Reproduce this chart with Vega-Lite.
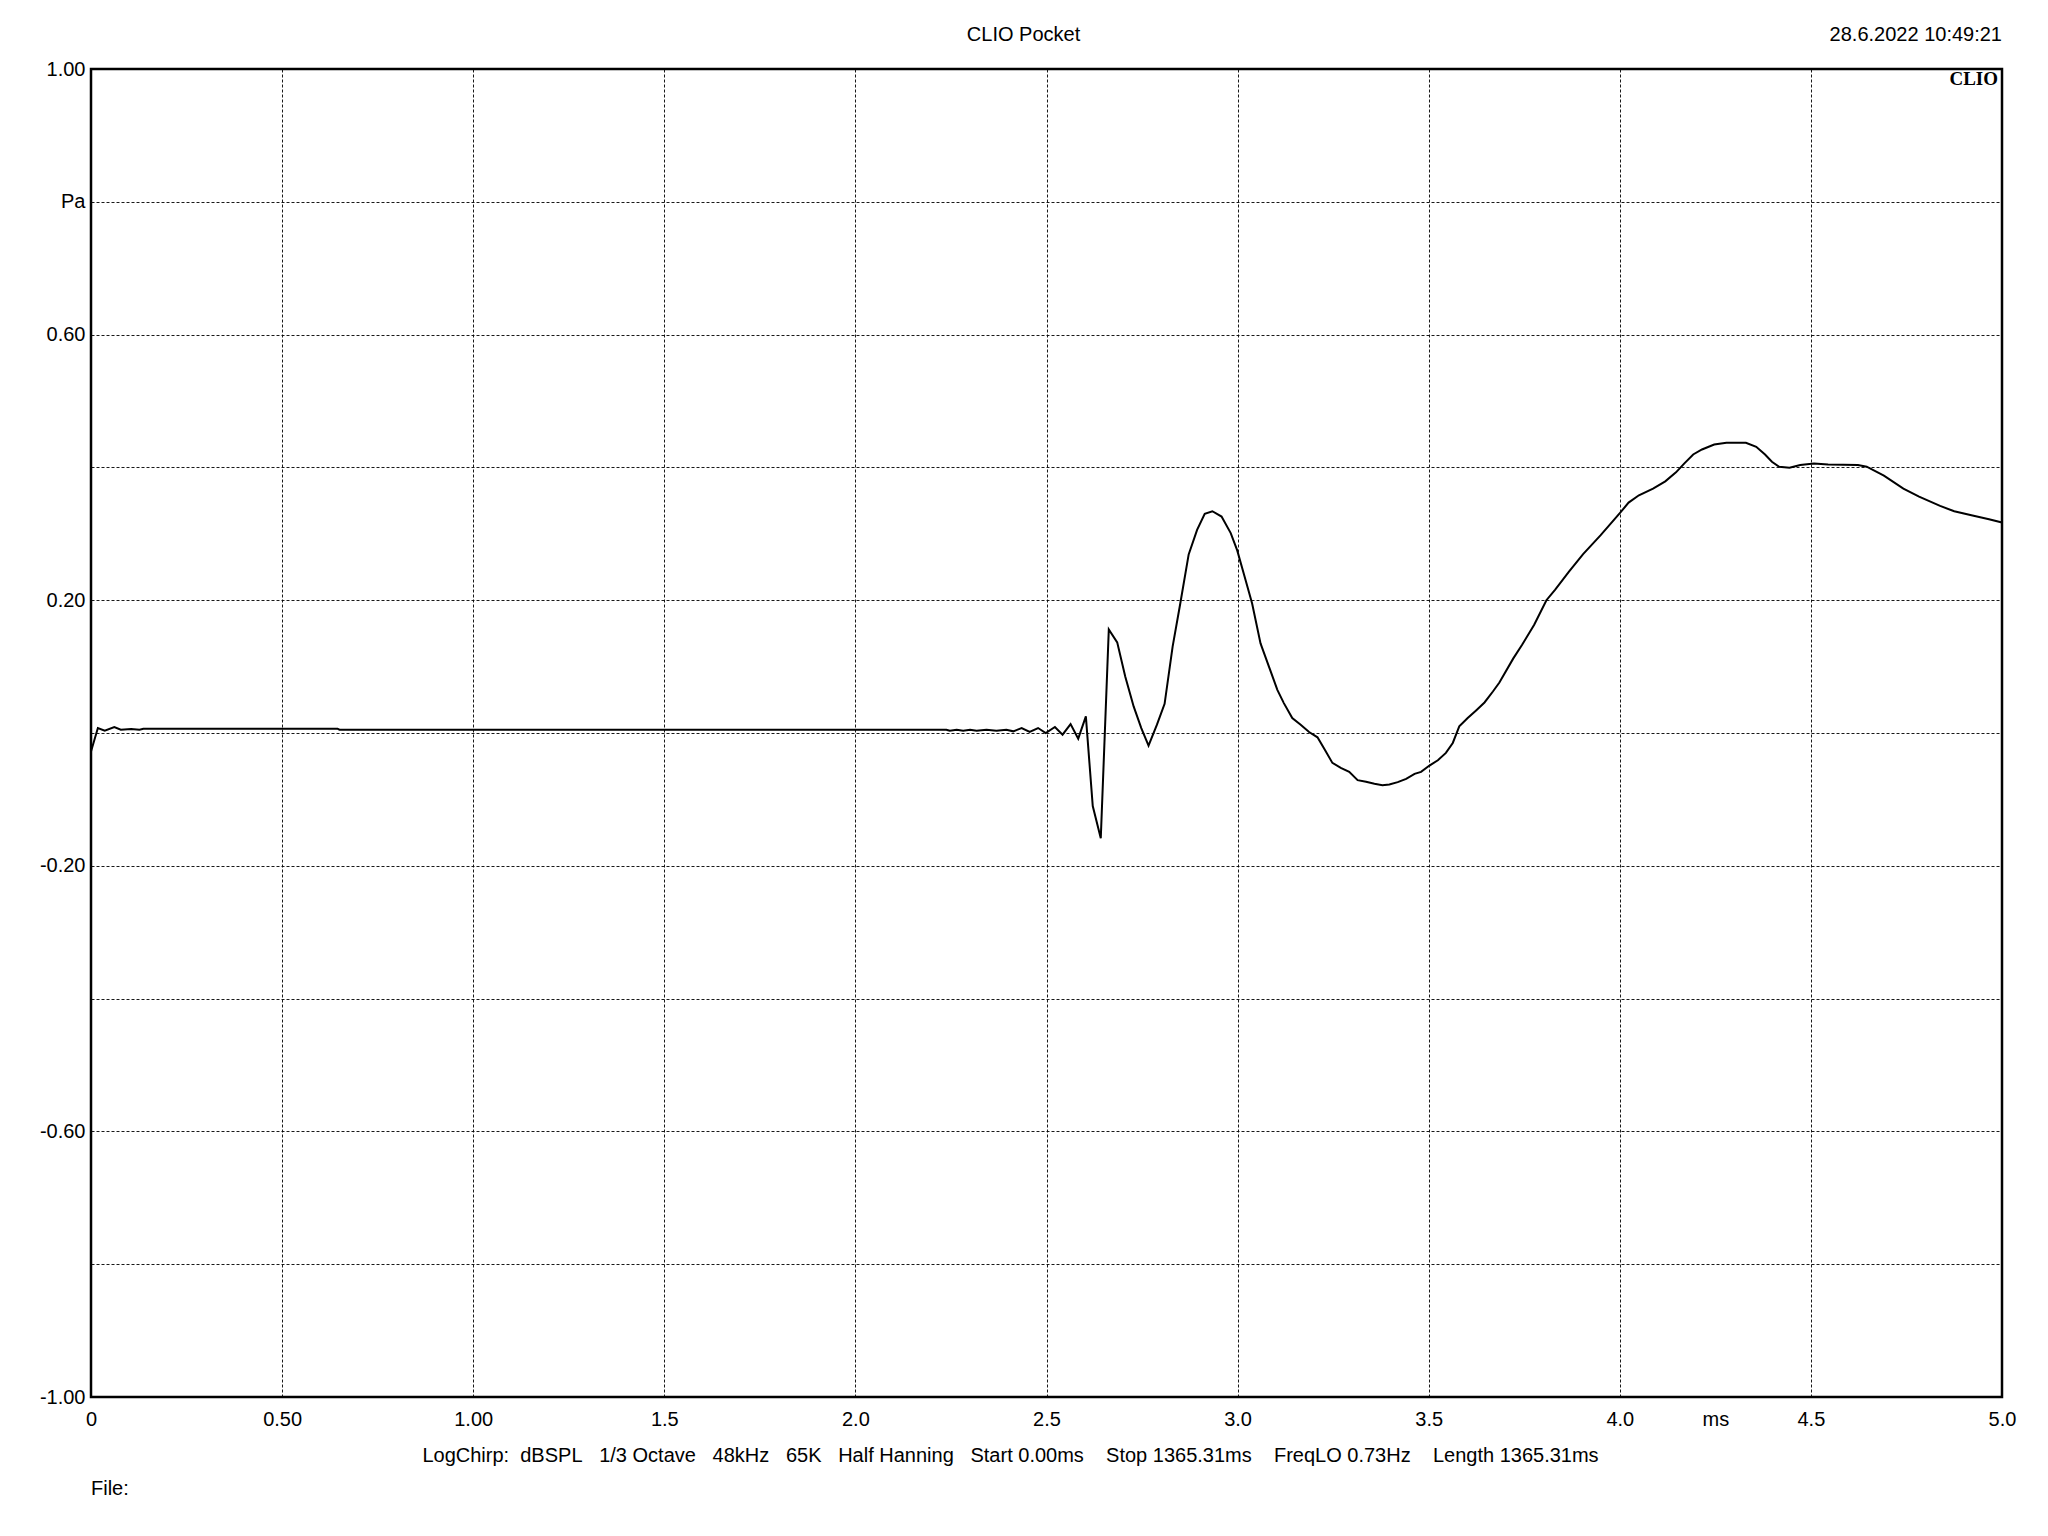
{
  "$schema": "https://vega.github.io/schema/vega-lite/v6.json",
  "width": 1911,
  "height": 1328,
  "autosize": {"type": "none"},
  "padding": {"left": 91, "top": 69, "right": 46, "bottom": 139},
  "background": "white",
  "config": {
    "view": {"stroke": "black", "strokeWidth": 2.5},
    "font": "Liberation Sans",
    "axis": {"labelFont": "Liberation Sans", "titleFont": "Liberation Sans"}
  },
  "layer": [
    {
      "data": {
        "values": [
          {"t": 0.000, "p": -0.028}, {"t": 0.018, "p": 0.0075}, {"t": 0.036, "p": 0.0035}, {"t": 0.061, "p": 0.009},
          {"t": 0.078, "p": 0.005}, {"t": 0.105, "p": 0.006}, {"t": 0.127, "p": 0.005}, {"t": 0.137, "p": 0.0065},
          {"t": 0.645, "p": 0.0065}, {"t": 0.650, "p": 0.005}, {"t": 2.169, "p": 0.005}, {"t": 2.238, "p": 0.005},
          {"t": 2.247, "p": 0.0035}, {"t": 2.265, "p": 0.005}, {"t": 2.282, "p": 0.0035}, {"t": 2.300, "p": 0.005},
          {"t": 2.317, "p": 0.0035}, {"t": 2.343, "p": 0.005}, {"t": 2.369, "p": 0.0035}, {"t": 2.395, "p": 0.005},
          {"t": 2.413, "p": 0.0025}, {"t": 2.435, "p": 0.0075}, {"t": 2.456, "p": 0.0015}, {"t": 2.478, "p": 0.0075},
          {"t": 2.498, "p": 0.000}, {"t": 2.522, "p": 0.009}, {"t": 2.542, "p": -0.0025}, {"t": 2.563, "p": 0.0135},
          {"t": 2.583, "p": -0.0085}, {"t": 2.603, "p": 0.025}, {"t": 2.621, "p": -0.11}, {"t": 2.642, "p": -0.1585},
          {"t": 2.663, "p": 0.156}, {"t": 2.685, "p": 0.1365}, {"t": 2.706, "p": 0.085}, {"t": 2.728, "p": 0.04},
          {"t": 2.748, "p": 0.0075}, {"t": 2.767, "p": -0.019}, {"t": 2.789, "p": 0.0125}, {"t": 2.809, "p": 0.044},
          {"t": 2.830, "p": 0.13}, {"t": 2.850, "p": 0.195}, {"t": 2.872, "p": 0.269}, {"t": 2.894, "p": 0.306},
          {"t": 2.914, "p": 0.33}, {"t": 2.934, "p": 0.334}, {"t": 2.958, "p": 0.326}, {"t": 2.982, "p": 0.301},
          {"t": 2.999, "p": 0.275}, {"t": 3.021, "p": 0.23}, {"t": 3.038, "p": 0.195}, {"t": 3.060, "p": 0.135},
          {"t": 3.082, "p": 0.1}, {"t": 3.104, "p": 0.065}, {"t": 3.121, "p": 0.045}, {"t": 3.143, "p": 0.0225},
          {"t": 3.165, "p": 0.0125}, {"t": 3.187, "p": 0.0015}, {"t": 3.209, "p": -0.0065}, {"t": 3.229, "p": -0.026},
          {"t": 3.248, "p": -0.045}, {"t": 3.270, "p": -0.0525}, {"t": 3.292, "p": -0.0585}, {"t": 3.314, "p": -0.071},
          {"t": 3.336, "p": -0.0735}, {"t": 3.358, "p": -0.0765}, {"t": 3.379, "p": -0.0785}, {"t": 3.397, "p": -0.0775},
          {"t": 3.419, "p": -0.074}, {"t": 3.441, "p": -0.069}, {"t": 3.463, "p": -0.0615}, {"t": 3.480, "p": -0.0585},
          {"t": 3.502, "p": -0.049}, {"t": 3.524, "p": -0.041}, {"t": 3.545, "p": -0.03}, {"t": 3.563, "p": -0.015},
          {"t": 3.580, "p": 0.01}, {"t": 3.602, "p": 0.0225}, {"t": 3.624, "p": 0.034}, {"t": 3.646, "p": 0.046},
          {"t": 3.668, "p": 0.0625}, {"t": 3.685, "p": 0.076}, {"t": 3.721, "p": 0.112}, {"t": 3.744, "p": 0.1325},
          {"t": 3.776, "p": 0.163}, {"t": 3.808, "p": 0.2}, {"t": 3.831, "p": 0.216}, {"t": 3.867, "p": 0.243},
          {"t": 3.904, "p": 0.2695}, {"t": 3.950, "p": 0.298}, {"t": 4.000, "p": 0.331}, {"t": 4.023, "p": 0.347},
          {"t": 4.050, "p": 0.358}, {"t": 4.087, "p": 0.368}, {"t": 4.119, "p": 0.379}, {"t": 4.147, "p": 0.3925},
          {"t": 4.169, "p": 0.406}, {"t": 4.192, "p": 0.4195}, {"t": 4.215, "p": 0.427}, {"t": 4.247, "p": 0.4345},
          {"t": 4.279, "p": 0.437}, {"t": 4.330, "p": 0.437}, {"t": 4.357, "p": 0.431}, {"t": 4.380, "p": 0.4195},
          {"t": 4.398, "p": 0.4085}, {"t": 4.417, "p": 0.401}, {"t": 4.444, "p": 0.3995}, {"t": 4.472, "p": 0.4035},
          {"t": 4.508, "p": 0.406}, {"t": 4.545, "p": 0.4045}, {"t": 4.623, "p": 0.4035}, {"t": 4.646, "p": 0.401},
          {"t": 4.691, "p": 0.3875}, {"t": 4.742, "p": 0.368}, {"t": 4.783, "p": 0.356}, {"t": 4.838, "p": 0.342},
          {"t": 4.875, "p": 0.334}, {"t": 4.920, "p": 0.328}, {"t": 4.966, "p": 0.322}, {"t": 5.000, "p": 0.317}
        ]
      },
      "mark": {"type": "line", "color": "black", "strokeWidth": 2, "interpolate": "linear"},
      "encoding": {
        "x": {
          "field": "t",
          "type": "quantitative",
          "scale": {"domain": [0, 5], "nice": false, "zero": false},
          "axis": {
            "values": [0, 0.5, 1, 1.5, 2, 2.5, 3, 3.5, 4, 4.25, 4.5, 5],
            "labelExpr": "datum.value == 0 ? '0' : datum.value == 0.5 ? '0.50' : datum.value == 1 ? '1.00' : datum.value == 4.25 ? 'ms' : format(datum.value, '.1f')",
            "grid": true,
            "gridColor": "#000000",
            "gridDash": [3, 2],
            "gridWidth": 1,
            "gridOpacity": {"condition": {"test": "datum.value == 4.25", "value": 0}, "value": 0.9},
            "domain": false,
            "ticks": false,
            "labelFontSize": 20,
            "labelColor": "black",
            "labelPadding": 12,
            "labelFlush": false,
            "labelOverlap": false,
            "labelBound": false,
            "title": "LogChirp:\u00a0\u00a0dBSPL\u00a0\u00a0\u00a01/3 Octave\u00a0\u00a0\u00a048kHz\u00a0\u00a0\u00a065K\u00a0\u00a0\u00a0Half Hanning\u00a0\u00a0\u00a0Start 0.00ms\u00a0\u00a0\u00a0\u00a0Stop 1365.31ms\u00a0\u00a0\u00a0\u00a0FreqLO 0.73Hz\u00a0\u00a0\u00a0\u00a0Length 1365.31ms",
            "titleFontSize": 20,
            "titleFontWeight": "normal",
            "titleColor": "black",
            "titleX": 919,
            "titleY": 58,
            "titleAlign": "center",
            "titleBaseline": "middle",
            "titleAnchor": null
          }
        },
        "y": {
          "field": "p",
          "type": "quantitative",
          "scale": {"domain": [-1, 1], "nice": false, "zero": false},
          "axis": {
            "values": [-1, -0.8, -0.6, -0.4, -0.2, 0, 0.2, 0.4, 0.6, 0.8, 1],
            "labelExpr": "datum.value > 0.99 ? '1.00' : abs(datum.value - 0.8) < 0.01 ? 'Pa' : abs(datum.value - 0.6) < 0.01 ? '0.60' : abs(datum.value - 0.2) < 0.01 ? '0.20' : abs(datum.value + 0.2) < 0.01 ? '-0.20' : abs(datum.value + 0.6) < 0.01 ? '-0.60' : datum.value < -0.99 ? '-1.00' : ''",
            "grid": true,
            "gridColor": "#000000",
            "gridDash": [3, 2],
            "gridWidth": 1,
            "gridOpacity": 0.9,
            "domain": false,
            "ticks": false,
            "labelFontSize": 20,
            "labelColor": "black",
            "labelPadding": 6,
            "labelFlush": false,
            "labelOverlap": false,
            "labelBound": false,
            "labelBaseline": "middle",
            "title": null
          }
        }
      }
    },
    {
      "data": {"values": [{"label": "CLIO Pocket"}]},
      "mark": {"type": "text", "align": "center", "baseline": "middle", "dx": -23, "dy": -34, "fontSize": 20, "font": "Liberation Sans", "color": "black"},
      "encoding": {
        "x": {"datum": 2.5, "type": "quantitative"},
        "y": {"datum": 1, "type": "quantitative"},
        "text": {"field": "label"}
      }
    },
    {
      "data": {"values": [{"label": "28.6.2022 10:49:21"}]},
      "mark": {"type": "text", "align": "right", "baseline": "middle", "dy": -34, "fontSize": 20, "font": "Liberation Sans", "color": "black"},
      "encoding": {
        "x": {"datum": 5, "type": "quantitative"},
        "y": {"datum": 1, "type": "quantitative"},
        "text": {"field": "label"}
      }
    },
    {
      "data": {"values": [{"label": "CLIO"}]},
      "mark": {"type": "text", "align": "right", "baseline": "middle", "dx": -4, "dy": 10, "fontSize": 19, "font": "Liberation Serif", "fontWeight": "bold", "color": "black"},
      "encoding": {
        "x": {"datum": 5, "type": "quantitative"},
        "y": {"datum": 1, "type": "quantitative"},
        "text": {"field": "label"}
      }
    },
    {
      "data": {"values": [{"label": "File:"}]},
      "mark": {"type": "text", "align": "left", "baseline": "middle", "dy": 92, "fontSize": 20, "font": "Liberation Sans", "color": "black"},
      "encoding": {
        "x": {"datum": 0, "type": "quantitative"},
        "y": {"datum": -1, "type": "quantitative"},
        "text": {"field": "label"}
      }
    }
  ]
}
